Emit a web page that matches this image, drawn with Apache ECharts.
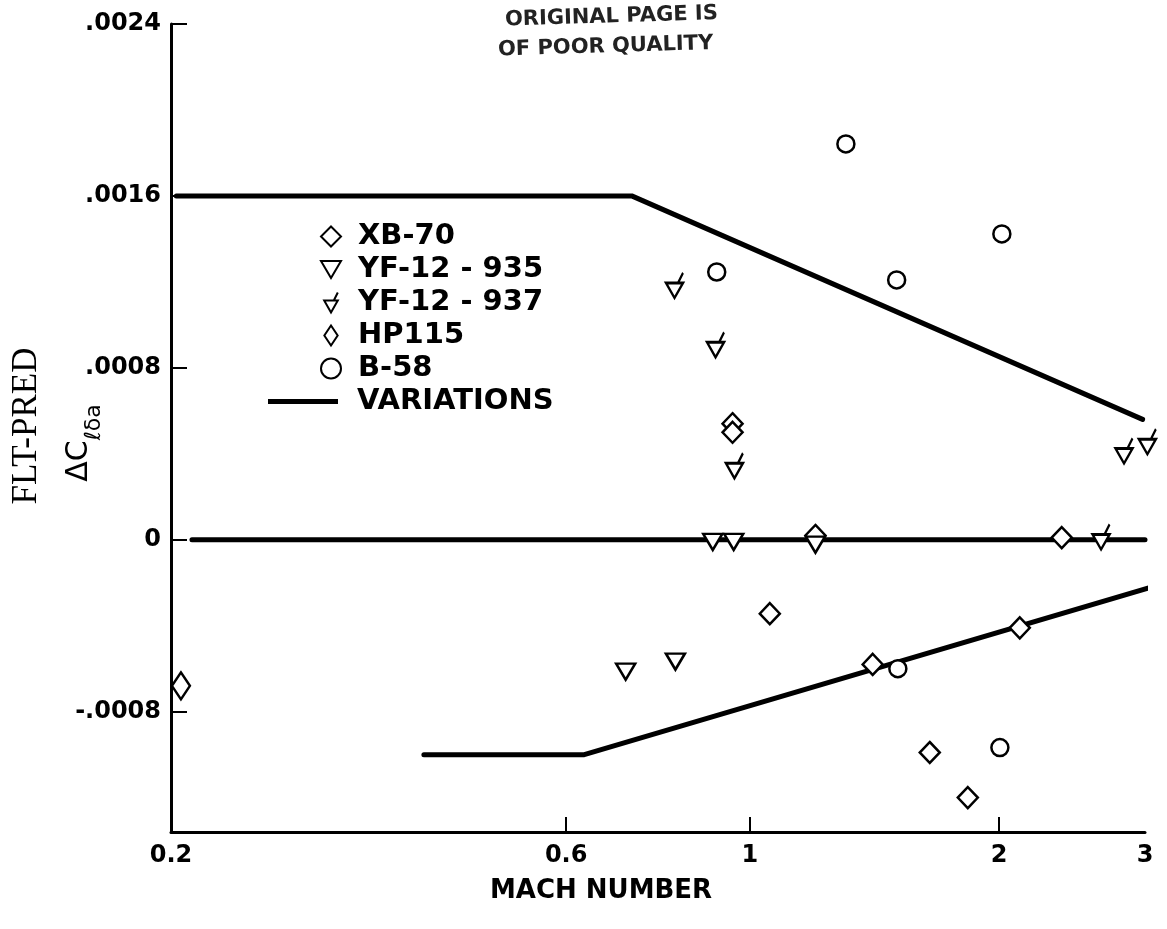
<!DOCTYPE html>
<html><head><meta charset="utf-8">
<script src="https://cdn.jsdelivr.net/npm/echarts@6/dist/echarts.min.js"></script>
<style>html,body{margin:0;padding:0;background:#fff}#c{width:1167px;height:929px}</style>
</head><body><div id="c"></div>
<script>
// ---- tick labels ----
const xTickValues = [0.2, 0.6, 1, 2, 3];
const xTickLabels = ['0.2', '0.6', '1', '2', '3'];
const xTickMarks = [0.6, 1, 2];
const yTickValues = [-0.0008, 0, 0.0008, 0.0016, 0.0024];
const yTickLabels = ['-.0008', '0', '.0008', '.0016', '.0024'];

// ---- series values [Mach, delta C] ----
const xb70 = [[0.953,0.00054],[0.953,0.0005],[1.057,-0.000344],[1.2,0.00002],[1.407,-0.00058],[1.649,-0.00099],[1.833,-0.0012],[2.118,-0.00041],[2.38,0.00001]];
const yf935 = [[0.708,-0.000614],[0.813,-0.000567],[0.902,-0.00001],[0.956,-0.00001],[1.2,-0.000023]];
const yf937 = [[0.811,0.00116],[0.909,0.000884],[0.958,0.000321],[2.655,-0.00001],[2.83,0.00039],[3.02,0.000433]];
const hp115 = [[0.2056,-0.00068]];
const b58 = [[0.912,0.001246],[1.306,0.001842],[1.504,0.001209],[2.015,0.001423],[1.509,-0.0006],[2.004,-0.000967]];
const variationUpper = [[0.203,0.0016],[0.72,0.0016],[2.98,0.00056]];
const variationZero = [[0.212,0],[3.0,0]];
const variationLower = [[0.404,-0.001],[0.631,-0.001],[3.15,-0.000205]];

const chart = echarts.init(document.getElementById('c'), null, {renderer:'canvas'});
const mk = {color:'#fff', borderColor:'#000', borderWidth:2.5, opacity:1};
const lineSty = {color:'#000', width:5, cap:'round'};
const labelFont = {fontFamily:'DejaVu Sans', fontWeight:'bold', fontSize:24, color:'#000'};
function nearestLabel(v, vals, labs){
  let best=0, bd=Infinity;
  vals.forEach((t,i)=>{const d=Math.abs(t-v); if(d<bd){bd=d;best=i;}});
  return labs[best];
}
function variation(data){
  return {name:'VARIATIONS', type:'line', data:data, symbol:'none', showSymbol:false,
    lineStyle:lineSty, itemStyle:{color:'#000'}, clip:false, z:2, silent:true};
}
const triDown = 'path://M0,0 L20,0 L10,17 Z';
const triFlag = 'path://M0,10 L17,10 L8.5,25 Z M12,10 L17,0';
const sqDiamond = 'path://M10,0 L20,10 L10,20 L0,10 Z';
const tallDiamond = 'path://M9,0 L18,13.5 L9,27 L0,13.5 Z';
const legendText = {fontFamily:'DejaVu Sans', fontWeight:'bold', fontSize:29, lineHeight:33, color:'#000'};

chart.setOption({
  animation:false,
  backgroundColor:'#fff',
  grid:{left:171, right:22, top:24, bottom:97, containLabel:false},
  xAxis:{type:'log', logBase:10, min:0.2, max:3,
    axisLine:{show:true, onZero:false, lineStyle:{color:'#000', width:3}},
    axisTick:{show:true, inside:true, length:15, customValues:xTickMarks, lineStyle:{color:'#000', width:2}},
    axisLabel:Object.assign({margin:12, customValues:xTickValues,
      formatter:(v)=>nearestLabel(v, xTickValues, xTickLabels)}, labelFont),
    splitLine:{show:false}, minorTick:{show:false}, minorSplitLine:{show:false}},
  yAxis:{type:'value', min:-0.00136, max:0.0024,
    axisLine:{show:true, onZero:false, lineStyle:{color:'#000', width:3}},
    axisTick:{show:true, inside:true, length:16, customValues:yTickValues, lineStyle:{color:'#000', width:2}},
    axisLabel:Object.assign({margin:10, customValues:yTickValues,
      formatter:(v)=>nearestLabel(v, yTickValues, yTickLabels)}, labelFont),
    splitLine:{show:false}},
  legend:[
    {orient:'vertical', left:315, top:215, itemWidth:20, itemHeight:20, itemGap:0, selectedMode:false,
      data:['XB-70','YF-12 - 935','YF-12 - 937','HP115','B-58'],
      textStyle:Object.assign({padding:[0,0,0,12]}, legendText)},
    {orient:'vertical', left:263, top:380, itemWidth:70, itemHeight:5, itemGap:0, selectedMode:false,
      data:[{name:'VARIATIONS', icon:'rect', itemStyle:{color:'#000', borderWidth:0}}],
      textStyle:Object.assign({padding:[0,0,0,14]}, legendText)}
  ],
  graphic:[
    {type:'text', x:27, y:426, rotation:Math.PI/2,
      style:{text:'FLT-PRED', font:'normal 35px "Liberation Serif"', fill:'#000', textAlign:'center', textVerticalAlign:'middle'}},
    {type:'text', x:79, y:443, rotation:Math.PI/2,
      style:{text:'{a|\u0394C}{b|\u2113\u03b4a}', textAlign:'center', textVerticalAlign:'middle', fill:'#000',
        rich:{a:{fontSize:30, fontFamily:'DejaVu Sans', lineHeight:30, verticalAlign:'top', fill:'#000'},
              b:{fontSize:22, fontFamily:'DejaVu Sans', lineHeight:22, padding:[30,0,0,0], fill:'#000'}}}},
    {type:'text', x:601, y:891,
      style:{text:'MACH NUMBER', font:'bold 26px "DejaVu Sans"', fill:'#000', textAlign:'center', textVerticalAlign:'middle'}},
    {type:'text', x:505, y:20, rotation:0.03,
      style:{text:'ORIGINAL PAGE IS', font:'bold 21px "DejaVu Sans"', fill:'#222', textAlign:'left', textVerticalAlign:'middle'}},
    {type:'text', x:498, y:50, rotation:0.03,
      style:{text:'OF POOR QUALITY', font:'bold 21px "DejaVu Sans"', fill:'#222', textAlign:'left', textVerticalAlign:'middle'}}
  ],
  series:[
    variation(variationUpper),
    variation(variationZero),
    variation(variationLower),
    {name:'XB-70', type:'scatter', data:xb70, symbol:sqDiamond, symbolSize:[20,21], itemStyle:mk, z:5, clip:false},
    {name:'YF-12 - 935', type:'scatter', data:yf935, symbol:triDown, symbolSize:[19,16], itemStyle:mk, z:5, clip:false},
    {name:'YF-12 - 937', type:'scatter', data:yf937, symbol:triFlag, symbolSize:[17,25], symbolOffset:[0,-5], itemStyle:mk, z:5, clip:false},
    {name:'HP115', type:'scatter', data:hp115, symbol:tallDiamond, symbolSize:[18,27], itemStyle:mk, z:5, clip:false},
    {name:'B-58', type:'scatter', data:b58, symbol:'circle', symbolSize:17, itemStyle:mk, z:5, clip:false}
  ]
});
</script></body></html>
